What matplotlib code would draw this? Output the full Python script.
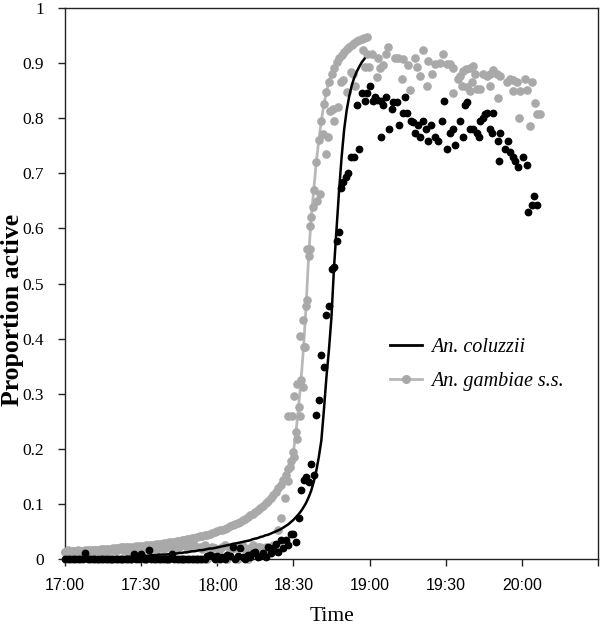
import matplotlib
matplotlib.use("Agg")
import matplotlib.pyplot as plt
from matplotlib.lines import Line2D
import numpy as np

# ---------------- data (minutes after 17:00) ----------------
tick_pos = [0, 30, 60, 90, 120, 150, 180, 210]
tick_labels = ["17:00", "17:30", "18:00", "18:30", "19:00", "19:30", "20:00", ""]
ytick_vals = [0, 0.1, 0.2, 0.3, 0.4, 0.5, 0.6, 0.7, 0.8, 0.9, 1.0]
ytick_labels = ["0", "0.1", "0.2", "0.3", "0.4", "0.5", "0.6", "0.7", "0.8", "0.9", "1"]

# fitted curve, An. gambiae s.s. (one value per minute from 17:00)
gambiae_fit = [
    .013, .013, .014, .014, .014, .015, .015, .015, .016, .016,
    .016, .017, .017, .017, .018, .018, .019, .019, .019, .020,
    .020, .020, .021, .021, .021, .022, .022, .022, .023, .023,
    .024, .024, .025, .025, .026, .026, .027, .027, .028, .029,
    .029, .030, .031, .031, .032, .033, .034, .035, .036, .037,
    .038, .039, .040, .041, .042, .043, .044, .046, .047, .049,
    .050, .052, .053, .055, .057, .059, .061, .063, .065, .068,
    .070, .073, .076, .079, .082, .085, .089, .093, .097, .101,
    .106, .111, .116, .122, .128, .135, .143, .152, .163, .177,
    .195, .230, .275, .325, .385, .460, .550, .620, .670, .720,
    .760, .795, .825, .848, .866, .880, .892, .902, .909, .915,
    .920, .925, .929, .933, .937, .940, .942, .944, .946, .948]

# fitted curve, An. coluzzii (one value per minute from 17:00)
coluzzii_fit = [
    .000, .000, .000, .000, .001, .001, .001, .001, .001, .001,
    .001, .001, .001, .002, .002, .002, .002, .002, .002, .003,
    .003, .003, .003, .003, .004, .004, .004, .004, .005, .005,
    .005, .006, .006, .006, .007, .007, .007, .008, .008, .008,
    .008, .009, .009, .010, .010, .011, .011, .012, .012, .013,
    .014, .014, .015, .016, .016, .017, .018, .019, .019, .020,
    .021, .022, .023, .024, .025, .026, .027, .028, .029, .030,
    .031, .032, .033, .034, .036, .037, .038, .040, .041, .043,
    .044, .046, .048, .050, .052, .054, .057, .060, .063, .067,
    .071, .076, .081, .087, .094, .102, .112, .124, .140, .160,
    .185, .215, .270, .330, .380, .440, .530, .600, .670, .730,
    .780, .815, .840, .860, .874, .885, .894, .902, .908]

# observed, An. coluzzii
coluzzii_early = [
    0, 0, 0, 0, 0, 0, 0, 0, .010, 0,
    0, 0, 0, 0, 0, 0, 0, 0, 0, 0,
    0, 0, 0, 0, 0, 0, 0, .009, 0, 0,
    .009, 0, 0, .016, 0, 0, 0, 0, 0, 0,
    0, 0, .009, 0, 0, 0, 0, 0, 0, 0,
    0, 0, 0, 0, 0, 0, .005, .007, .005, 0,
    .006, 0, .004, 0, .008, .005, .022, 0, .006, .020,
    .004, 0, .008, .004, .010, .013, .004, .006, .010, .004,
    .022, .010, .020, .028, .012, .034, .020, .034, .025, .046,
    .046, .030]
coluzzii_t = [
    92, 93, 94, 95, 96, 97, 98, 99, 100, 101, 102, 103, 104, 105, 106, 107,
    108, 108.7, 109.7, 110.6, 111.6, 112.7, 114, 114.9, 116, 117, 118.2,
    119.1, 120.2, 121.5, 122.1, 122.8, 124.5, 124.5, 125.4, 126.5, 127.8,
    128.7, 129.4, 130.7, 131.7, 133.3, 134, 134.6, 136.2, 137.2, 137.9,
    139.2, 139.9, 141.2, 142.2, 143.1, 144.1, 145.8, 147.1, 148.4, 149.3,
    150.4, 151.7, 153, 153.7, 155.6, 156.7, 157.6, 158.5, 159.6, 160.9,
    162.2, 163, 163.5, 164.6, 165.4, 166.2, 167.5, 168.2, 168.8, 170.7,
    171.1, 171.4, 173.4, 174.4, 175.3, 176.4, 177.3, 178.6, 180.6, 181.9,
    182.6, 183.9, 184.8, 185.8]
coluzzii_obs = [
    .074, .125, .143, .148, .140, .173, .152, .261, .289, .370, .348, .442,
    .460, .527, .530, .578, .593, .673, .685, .693, .700, .730, .730, .824,
    .745, .845, .832, .845, .859, .832, .838, .833, .832, .766, .824, .838,
    .780, .816, .830, .830, .787, .810, .838, .810, .795, .793, .774, .787,
    .766, .795, .780, .759, .787, .766, .759, .795, .832, .745, .774, .780,
    .751, .795, .766, .824, .830, .780, .780, .774, .766, .795, .801, .808,
    .810, .780, .774, .810, .759, .723, .774, .745, .759, .738, .729, .723,
    .711, .730, .715, .629, .643, .658, .643]

# observed, An. gambiae s.s.
gambiae_early = [
    .013, .016, .010, .014, .012, .016, .015, .011, .014, .013,
    .015, .012, .016, 0, .015, .013, .017, .014, 0, .016,
    .015, .018, 0, .016, .017, .015, 0, .018, .016, .020,
    .015, .019, 0, .017, .021, .018, .016, .020, .022, .019,
    0, .021, .024, .020, .018, .022, 0, .025, .021, .020,
    .023, .026, 0, .021, .018, .025, 0, .016, .022, .020,
    0, .018, .022, .026, 0, .015, .024, .020, 0, .022,
    .024, .018, 0, .020, .025, .016, .022, .022, .018, .022,
    .020, .022, .025, .015, .052, .074]
gambiae_t = [
    86.7, 87.7, 88, 88.7, 89.3, 90.2, 90.3, 91.3, 91.3, 92.6, 92.6, 93.6,
    93.6, 94.6, 95.2, 95.5, 96.5, 96.5, 97.6, 99.2, 100.5, 101.8, 102.8,
    103.7, 104.4, 105.7, 106, 107.7, 108.6, 109.7, 111, 112.6, 113.6, 114.3,
    117.3, 118.2, 119.1, 119.9, 120.8, 123.1, 123.5, 124.1, 125.2, 126.5,
    127.4, 130, 131.3, 132.7, 133, 135.3, 135.9, 137.9, 138.6, 139.9, 141.2,
    142.5, 143.1, 144.5, 145.8, 147.8, 149.1, 150.4, 151.7, 153, 153, 155,
    155.6, 156.3, 156.9, 158, 158.3, 159.6, 159.6, 160.2, 160.9, 161.5,
    162.2, 163.5, 164.8, 166.2, 167.5, 167.5, 168.8, 170.1, 170.7, 171.4,
    174, 175.3, 176.6, 176.6, 178, 179, 179.3, 181.2, 181.9, 183.2, 183.9,
    185.2, 185.8, 187.2]
gambiae_obs = [
    .110, .141, .260, .167, .259, .295, .185, .217, .318, .404, .259, .313,
    .434, .385, .563, .470, .563, .605, .638, .650, .662, .771, .735, .765,
    .813, .816, .795, .820, .866, .869, .847, .883, .880, .859, .923, .893,
    .916, .893, .916, .874, .910, .892, .896, .916, .929, .910, .910, .871,
    .907, .896, .851, .910, .893, .877, .923, .859, .904, .880, .898, .901,
    .916, .898, .899, .892, .845, .871, .877, .859, .886, .889, .856, .892,
    .850, .866, .895, .880, .853, .853, .880, .877, .880, .859, .887, .880,
    .836, .877, .866, .871, .869, .850, .865, .800, .850, .871, .851, .786,
    .866, .828, .807, .808]

# ---------------- styling ----------------
GRAY = "#a9a9a9"
GRAY_LINE = "#b8b8b8"
SERIF = ["Liberation Serif", "DejaVu Serif"]
SANS = ["Liberation Sans", "DejaVu Sans"]

fig = plt.figure(figsize=(6.0, 6.33), dpi=100)
ax = fig.add_axes([65 / 600, 1 - 559 / 633, 533 / 600, 551 / 633])

ax.plot(np.arange(len(gambiae_fit)), gambiae_fit, color=GRAY_LINE, lw=2.0,
        marker="o", ms=5.2, mfc=GRAY, mec=GRAY, zorder=2, clip_on=False)
ax.plot(np.arange(len(gambiae_early)), gambiae_early, ls="none", marker="o",
        ms=5.2, mfc=GRAY, mec=GRAY, zorder=3, clip_on=False)
ax.plot(gambiae_t, gambiae_obs, ls="none", marker="o", ms=5.2,
        mfc=GRAY, mec=GRAY, zorder=3, clip_on=False)
ax.plot(np.arange(len(coluzzii_early)), coluzzii_early, ls="none", marker="o",
        ms=4.6, mfc="black", mec="black", zorder=4, clip_on=False)
ax.plot(coluzzii_t, coluzzii_obs, ls="none", marker="o", ms=4.6,
        mfc="black", mec="black", zorder=4, clip_on=False)
ax.plot(np.arange(len(coluzzii_fit)), coluzzii_fit, color="black", lw=1.8,
        zorder=5, clip_on=False)

ax.set_xlim(0, 210)
ax.set_ylim(0, 1)
ax.set_xticks(tick_pos)
ax.set_xticklabels(tick_labels, fontfamily=SANS, fontsize=11.5)
for lab in ax.get_xticklabels():
    if lab.get_text() == "18:00":
        lab.set_fontfamily(SERIF)
        lab.set_fontsize(13)
ax.set_yticks(ytick_vals)
ax.set_yticklabels(ytick_labels, fontfamily=SERIF, fontsize=12.5)
ax.tick_params(axis="both", direction="out", length=5, width=1.0, color="#222222")
ax.tick_params(axis="x", pad=9)
ax.tick_params(axis="y", pad=10)
for sp in ax.spines.values():
    sp.set_linewidth(1.0)
    sp.set_color("#222222")

ax.set_xlabel("Time", fontfamily=SERIF, fontsize=15.5, labelpad=8)
fig.text(13 / 600, 1 - 310 / 633, "Proportion active", rotation=90,
         ha="center", va="center", fontfamily=SERIF, fontweight="bold",
         fontsize=18.5)

handles = [
    Line2D([], [], color="black", lw=2.0),
    Line2D([], [], color=GRAY_LINE, lw=2.0, marker="o", ms=5.5, mfc=GRAY, mec=GRAY),
]
leg = ax.legend(handles, ["An. coluzzii", "An. gambiae s.s."], loc="upper left",
                bbox_to_anchor=((390 - 65) / 533, (559 - 338) / 551),
                frameon=False, borderaxespad=0, borderpad=0,
                handlelength=1.6, handletextpad=0.45, labelspacing=0.75,
                prop={"family": SERIF, "style": "italic", "size": 14.5})

fig.savefig("out.png", dpi=100)
